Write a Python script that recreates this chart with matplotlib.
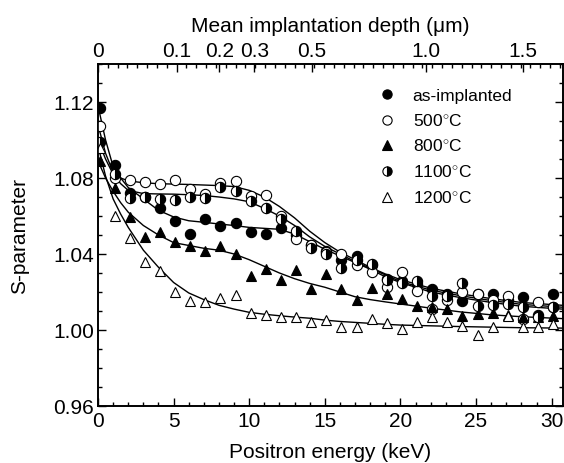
import numpy as np
import matplotlib.pyplot as plt
from matplotlib.ticker import MultipleLocator, FixedLocator

plt.rcParams['font.family'] = ['Liberation Sans', 'DejaVu Sans']
plt.rcParams['mathtext.fontset'] = 'custom'
plt.rcParams['mathtext.rm'] = 'Liberation Sans'

# positron energies of the measured points (keV)
energy = [0.1, 1.1, 2.1, 3.1, 4.1, 5.1, 6.1, 7.1, 8.1, 9.1, 10.1,
          11.1, 12.1, 13.1, 14.1, 15.1, 16.1, 17.1, 18.1, 19.1, 20.1,
          21.1, 22.1, 23.1, 24.1, 25.1, 26.1, 27.1, 28.1, 29.1, 30.1]

s_asimpl = [1.117, 1.087, 1.072, 1.070, 1.064, 1.0575, 1.0505, 1.0585, 1.055, 1.0565, 1.0515,
            1.0505, 1.0535, 1.050, 1.045, 1.0417, 1.037, 1.0388, 1.034, 1.027, 1.026,
            1.024, 1.0216, 1.019, 1.0154, 1.019, 1.019, 1.016, 1.0172, 1.008, 1.019]
s_500 = [1.1075, 1.080, 1.079, 1.0777, 1.077, 1.079, 1.0742, 1.0716, 1.0774, 1.0786, 1.0707,
         1.0711, 1.060, 1.048, 1.045, 1.041, 1.040, 1.034, 1.0305, 1.0225, 1.0304,
         1.0207, 1.011, 1.016, 1.0198, 1.019, 1.016, 1.0177, 1.0058, 1.0146, 1.012]
s_800 = [1.089, 1.075, 1.0593, 1.0488, 1.0514, 1.0461, 1.044, 1.0417, 1.044, 1.040, 1.0286,
         1.032, 1.0265, 1.0317, 1.0216, 1.0295, 1.0216, 1.016, 1.0219, 1.019, 1.0163,
         1.0128, 1.012, 1.011, 1.0075, 1.0084, 1.009, 1.008, 1.007, 1.007, 1.0075]
s_1100 = [1.099, 1.082, 1.0693, 1.0698, 1.069, 1.0686, 1.0698, 1.0695, 1.0751, 1.0733, 1.068,
          1.064, 1.0584, 1.052, 1.043, 1.040, 1.0325, 1.037, 1.035, 1.0265, 1.025,
          1.026, 1.018, 1.018, 1.025, 1.0128, 1.013, 1.0137, 1.012, 1.0067, 1.012]
s_1200 = [1.096, 1.060, 1.0483, 1.0356, 1.0312, 1.0202, 1.0154, 1.0146, 1.0167, 1.0184, 1.0088,
          1.0079, 1.0067, 1.0067, 1.004, 1.0054, 1.0016, 1.0014, 1.006, 1.0037, 1.0005,
          1.0044, 1.007, 1.004, 1.0023, 0.9974, 1.0017, 1.0075, 1.0016, 1.0014, 1.003]

fit_e = [0, 0.5, 1, 1.5, 2, 3, 4, 5, 6, 7, 8, 9, 10, 11, 12, 13, 14, 15, 16, 17, 18,
         19, 20, 22, 24, 26, 28, 30.7]
fit_asimpl = [1.118, 1.100, 1.086, 1.080, 1.075, 1.069, 1.063, 1.0595, 1.0575, 1.0567, 1.0558,
              1.055, 1.054, 1.0535, 1.053, 1.0505, 1.0465, 1.0425, 1.039, 1.0355, 1.032,
              1.028, 1.025, 1.020, 1.017, 1.0145, 1.0125, 1.011]
fit_500 = [1.108, 1.093, 1.083, 1.080, 1.0785, 1.0775, 1.077, 1.0768, 1.0766, 1.0763, 1.076,
           1.0755, 1.0735, 1.070, 1.065, 1.059, 1.052, 1.046, 1.041, 1.037, 1.033,
           1.0295, 1.0265, 1.022, 1.019, 1.0165, 1.0145, 1.013]
fit_800 = [1.089, 1.080, 1.073, 1.067, 1.062, 1.055, 1.050, 1.046, 1.0445, 1.043, 1.042,
           1.040, 1.037, 1.0335, 1.030, 1.027, 1.0245, 1.0225, 1.020, 1.0175, 1.016,
           1.0148, 1.0137, 1.0115, 1.0095, 1.008, 1.007, 1.006]
fit_1100 = [1.100, 1.090, 1.082, 1.077, 1.0735, 1.0718, 1.0716, 1.0715, 1.0712, 1.0708, 1.070,
            1.069, 1.0675, 1.064, 1.060, 1.055, 1.049, 1.044, 1.040, 1.036, 1.0325,
            1.029, 1.0255, 1.021, 1.018, 1.0155, 1.0135, 1.012]
fit_1200 = [1.097, 1.081, 1.069, 1.061, 1.054, 1.042, 1.033, 1.025, 1.0195, 1.016, 1.013,
            1.011, 1.0093, 1.0083, 1.0075, 1.0068, 1.0062, 1.0052, 1.0045, 1.004, 1.0035,
            1.003, 1.0026, 1.0022, 1.0018, 1.0015, 1.0012, 1.001]

labels = ['as-implanted', r'500$^{\circ}$C', r'800$^{\circ}$C', r'1100$^{\circ}$C', r'1200$^{\circ}$C']

# top axis: mean implantation depth (um) and where it falls in keV
depth_labels = ['0', '0.1', '0.2', '0.3', '0.5', '1.0', '1.5']
depth_energy = [0, 5.2, 8.03, 10.33, 14.14, 21.7, 28.1]

fs = 15
fig = plt.figure(figsize=(5.64, 4.64), dpi=100)
ax = fig.add_axes([98/564, 1-407/464, (563-98)/564, (407-65)/464])

for fit in [fit_asimpl, fit_500, fit_800, fit_1100, fit_1200]:
    ax.plot(fit_e, fit, color='black', lw=1.0, zorder=2)

ms = 7.4
kw = dict(linestyle='none', markeredgecolor='black', markeredgewidth=0.8, markersize=ms, zorder=3)
ax.plot(energy, s_asimpl, marker='o', markerfacecolor='black', label=labels[0], **kw)
ax.plot(energy, s_500, marker='o', markerfacecolor='white', label=labels[1], **kw)
ax.plot(energy, s_800, marker='^', markerfacecolor='black', label=labels[2], **kw)
ax.plot(energy, s_1100, marker='o', fillstyle='right', markerfacecolor='black',
        markerfacecoloralt='white', label=labels[3], **kw)
ax.plot(energy, s_1200, marker='^', markerfacecolor='white', label=labels[4], **kw)

ax.set_xlim(0, 30.75)
ax.set_ylim(0.96, 1.14)
ax.xaxis.set_major_locator(MultipleLocator(5))
ax.xaxis.set_minor_locator(MultipleLocator(1))
ax.yaxis.set_major_locator(FixedLocator([0.96, 1.00, 1.04, 1.08, 1.12]))
ax.yaxis.set_minor_locator(MultipleLocator(0.01))
ax.set_yticklabels(['0.96', '1.00', '1.04', '1.08', '1.12'])
ax.tick_params(which='both', direction='in', right=True, top=False, labelsize=fs, width=1)
ax.tick_params(which='major', length=6)
ax.tick_params(which='minor', length=3)
ax.tick_params(axis='y', pad=3)
ax.set_xlabel('Positron energy (keV)', fontsize=fs, labelpad=9)
ax.set_ylabel('S-parameter', fontsize=fs, labelpad=17)

top = ax.twiny()
top.set_xlim(ax.get_xlim())
top.set_xticks(depth_energy)
top.set_xticklabels(depth_labels)
top.xaxis.set_minor_locator(MultipleLocator(0.65))
top.tick_params(which='both', direction='in', labelsize=fs, width=1, pad=3)
top.tick_params(which='major', length=6)
top.tick_params(which='minor', length=3)
top.set_xlabel('Mean implantation depth (\u03bcm)', fontsize=fs, labelpad=7)

for a in (ax, top):
    for sp in a.spines.values():
        sp.set_linewidth(1.2)

ax.legend(loc='upper left', bbox_to_anchor=(0.585, 0.955), frameon=False, fontsize=12.5,
          handlelength=1.0, handletextpad=0.95, labelspacing=0.52, borderpad=0, markerscale=0.9)

fig.savefig('out.png', dpi=100)
